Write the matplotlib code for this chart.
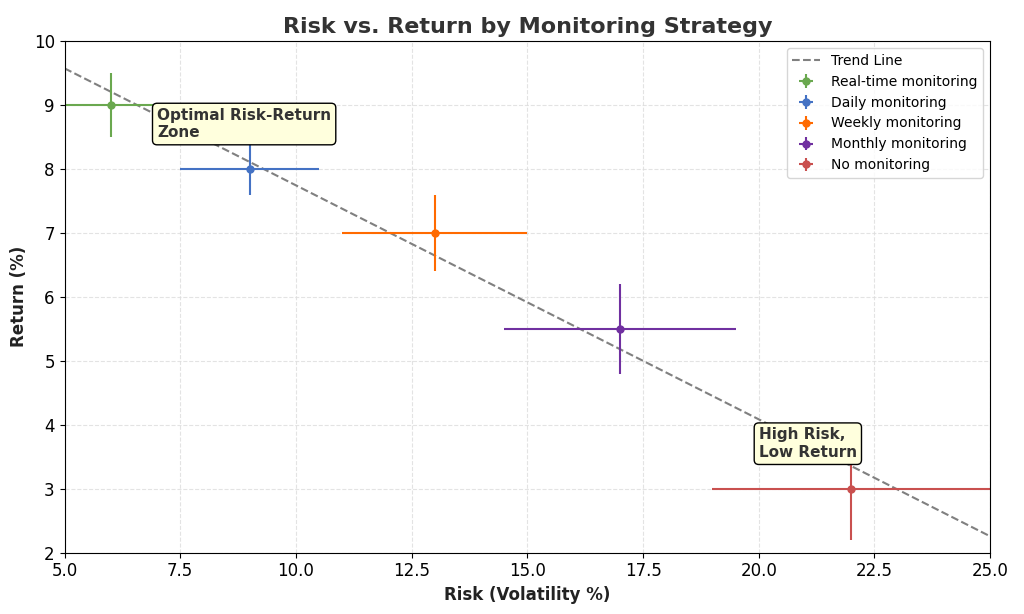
import matplotlib.pyplot as plt
import numpy as np

labels = ['Real-time monitoring', 'Daily monitoring', 'Weekly monitoring',
          'Monthly monitoring', 'No monitoring']
risk = [6, 9, 13, 17, 22]
ret = [9, 8, 7, 5.5, 3]
risk_err = [1.0, 1.5, 2.0, 2.5, 3.0]
ret_err = [0.5, 0.4, 0.6, 0.7, 0.8]
colours = ['#6aa84f', '#4472c4', '#ff6a00', '#7030a0', '#c9504f']

fig, ax = plt.subplots(figsize=(10.24, 6.14), dpi=100)

coef = np.polyfit(risk, ret, 1)
xs = np.array([5, 25])
ax.plot(xs, np.polyval(coef, xs), linestyle='--', color='gray', lw=1.5, label='Trend Line')

for i in range(len(labels)):
    ax.errorbar(risk[i], ret[i], xerr=risk_err[i], yerr=ret_err[i], fmt='o',
                color=colours[i], ms=5, lw=1.5, label=labels[i])

box = dict(boxstyle='round,pad=0.3', fc='#ffffdd', ec='black')
ax.text(7.0, 8.45, 'Optimal Risk-Return\nZone', fontsize=11, fontweight='bold',
        color='#333333', bbox=box, va='bottom')
ax.text(20.0, 3.45, 'High Risk,\nLow Return', fontsize=11, fontweight='bold',
        color='#333333', bbox=box, va='bottom')

ax.set_xlim(5, 25)
ax.set_ylim(2, 10)
ax.set_xticks(np.arange(5, 25.1, 2.5))
ax.tick_params(labelsize=12)
ax.grid(True, linestyle='--', color='#dddddd', alpha=0.8)
ax.set_xlabel('Risk (Volatility %)', fontsize=12, fontweight='bold', color='#222222')
ax.set_ylabel('Return (%)', fontsize=12, fontweight='bold', color='#222222')
ax.set_title('Risk vs. Return by Monitoring Strategy', fontsize=16,
             fontweight='bold', color='#333333')
ax.legend(loc='upper right', fontsize=10)

plt.subplots_adjust(left=0.063, right=0.967, top=0.933, bottom=0.1)
plt.savefig('out.png')
